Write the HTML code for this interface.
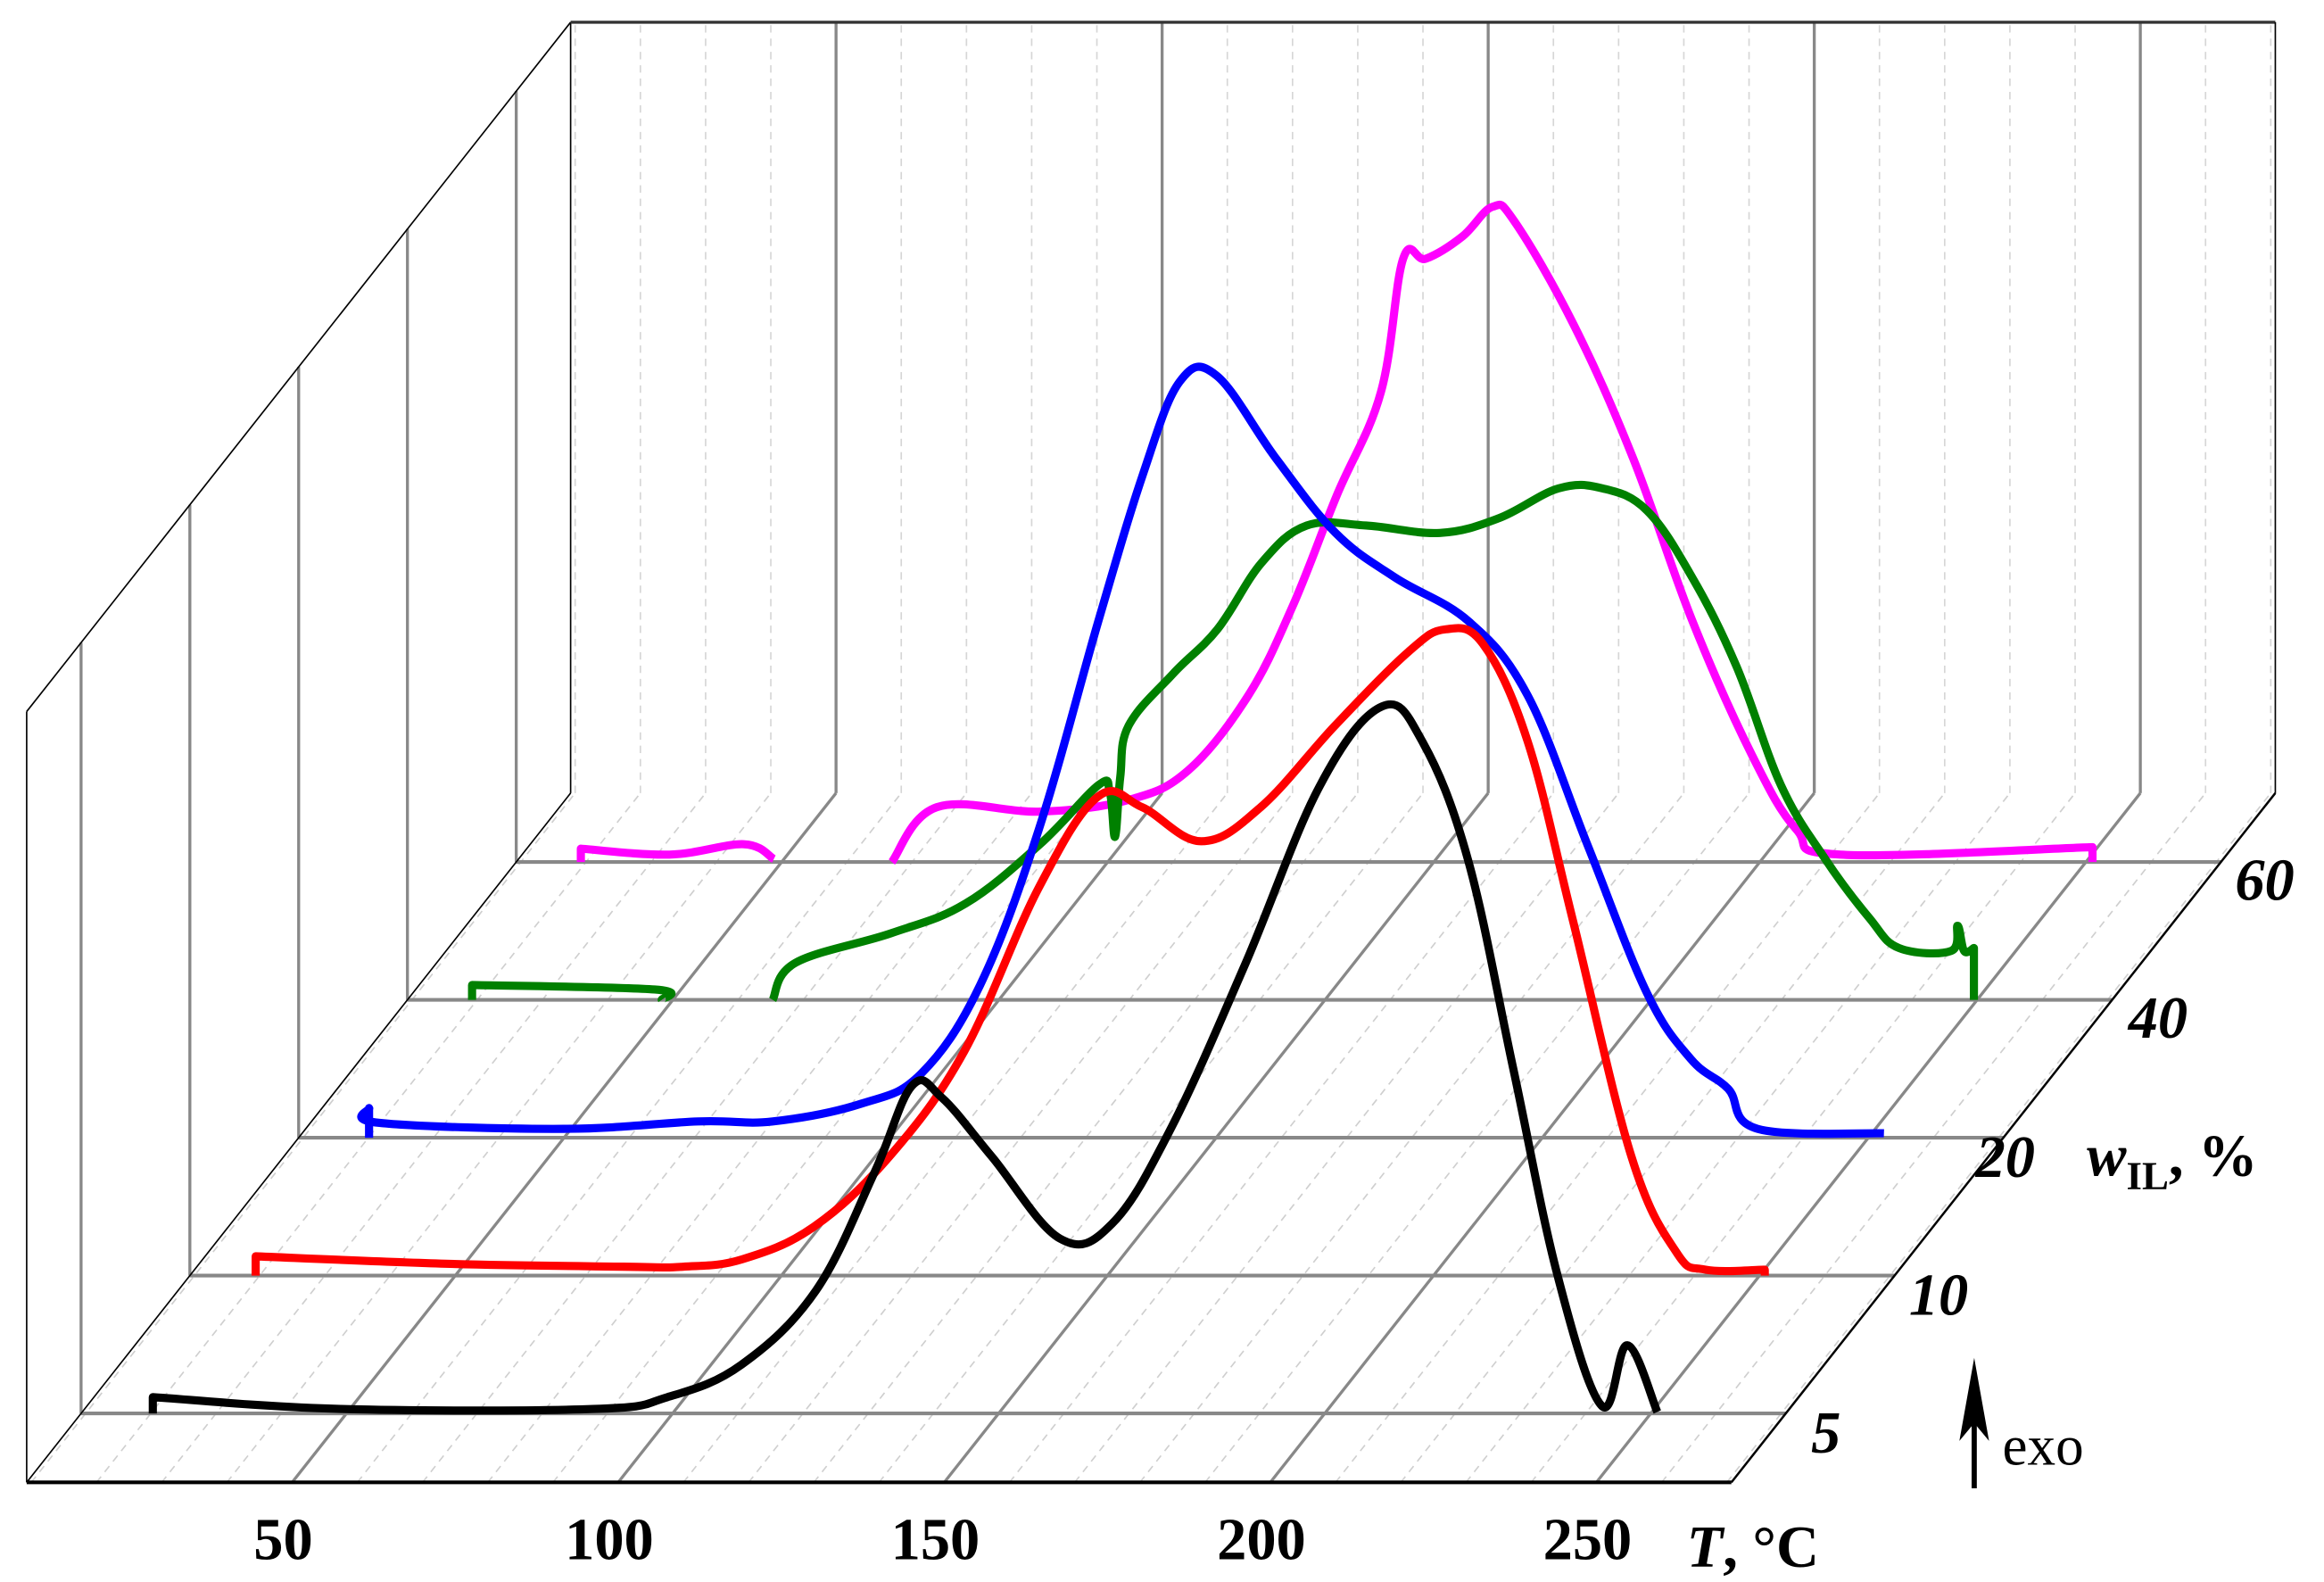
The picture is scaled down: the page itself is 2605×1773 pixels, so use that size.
<!DOCTYPE html>
<html><head><meta charset="utf-8"><style>
html,body{margin:0;padding:0;background:#fff;}
svg{display:block;}
text{font-family:"Liberation Serif",serif;}
</style></head><body>
<svg id="chart" xmlns="http://www.w3.org/2000/svg" width="2605" height="1773" viewBox="0 0 1568 1067.2">
<g id="grid"></g>
<g id="series"></g>
<g id="labels"></g>
</svg>
<script>
// ---- data ----
const depthLabels = ["5","10","20","40","60"];
const tickLabels = [50,100,150,200,250];
const blackT = [20.3,20.3,49.2,87.8,99.2,110.6,122,131,136.7,141.3,149,159.4,167.4,176.5,187.8,199.2,208.8,215,222,228.9,235.7,242.5,246.4,251];
const blackH = [0,11,3,3,11,33,83,163,221,213,173,118,128,193,303,423,477,453,373,233,93,5,46,1];
const redT = [19.4,19.4,48.5,75.8,84.9,94,105,116.7,128,139.4,148.5,155.3,164.4,173.5,184.9,196.2,201.9,207.6,214.4,221.3,230.3,237.2,241.7,250.8,250.8];
const redH = [0,13,8,6,6,11,33,81,151,261,323,316,293,316,371,421,436,426,361,241,81,16,4,4,0];
const blueT = [20.1,20.1,21.7,50,70.6,82,95.6,104.7,113.8,122.8,131.9,138.8,144.4,150.1,159.2,168.3,177.4,188.8,197.8,206.9,216,222.8,228.5,233,252.4];
const blueH = [0,20,10,6,11,11,23,43,103,208,348,448,510,514,458,408,378,348,298,198,98,53,33,6,3];
const greenT1 = [19.2,19.2,47.2,48.3];
const greenH1 = [0,10,7,0];
const greenT2 = [65.3,68.8,83.5,94.9,106.3,115.3,117,117.8,118.6,119.9,126.7,133.5,140.3,147.2,156.3,167.6,176.7,185.8,192.6,199.4,206.3,213.1,219.9,226.7,233.5,238,246,247,248,249.5,249.5];
const greenH2 = [0,25,45,65,105,145,140,110,150,185,220,250,295,320,320,315,325,345,345,330,285,225,145,95,55,35,33,50,33,35,0];
const magT1 = [19.2,19.2,32.8,44.2,48.8];
const magH1 = [0,9,5,12,2];
const magT2 = [66.9,73.8,89.7,103.3,112.4,121.5,128.3,135.1,141.9,145.3,148.8,154.4,159,162.4,171.5,180.6,189.7,198.8,205.6,212.4,251,251];
const magH2 = [0,37,34,42,62,112,172,247,317,407,407,422,442,432,362,272,162,72,22,5,10,0];
const depthFrac = [0.1,0.3,0.5,0.7,0.9];

// ---- axes ----
const X0=18, Y0=1000, PX=4.4, T0=9.3, DX=367, DY=465, WALLH=520, TMAX=270.7;
const xT = T => X0 + (T - T0)*PX;
const P = (T,d,h) => [xT(T)+DX*d, Y0-DY*d-(h||0)];
const NS="http://www.w3.org/2000/svg";
function mk(parent,tag,attrs,name){const e=document.createElementNS(NS,tag);for(const k in attrs)e.setAttribute(k,attrs[k]);


parent.appendChild(e);return e;}
const G=document.getElementById('grid'), S=document.getElementById('series'), L=document.getElementById('labels');
function line(p,a,b,st,w,dash,name){const at={x1:a[0],y1:a[1],x2:b[0],y2:b[1],stroke:st,'stroke-width':w};if(dash)at['stroke-dasharray']=dash;mk(p,'line',at,name);}

for(let T=10;T<=270;T+=10){ if(T%50===0)continue;
  line(G,P(T,0),P(T,1),'#cfcfcf',1,'5,4','floor-minor-grid');
  const b=P(T,1); line(G,b,[b[0],b[1]-WALLH],'#d6d6d6',1,'5,4','wall-minor-grid');
}
tickLabels.forEach(T=>{ line(G,P(T,0),P(T,1),'#888',2,null,'floor-major-grid');
  const b=P(T,1); line(G,b,[b[0],b[1]-WALLH],'#888',2,null,'wall-major-grid');});
depthFrac.forEach(d=>{ line(G,P(T0,d),P(TMAX,d),'#888',2.5,null,'depth-line');
  const a=P(T0,d); line(G,a,[a[0],Y0-WALLH-DY*d],'#888',2,null,'left-wall-grid');});
line(G,P(T0,0),P(TMAX,0),'#000',2.5,null,'front-edge');
line(G,P(T0,0),P(T0,1),'#000',1,null,'left-floor-edge');
line(G,P(TMAX,0),P(TMAX,1),'#000',1.5,null,'right-floor-edge');
line(G,P(T0,0),[X0,Y0-WALLH],'#000',1,null,'left-front-edge');
line(G,[X0,Y0-WALLH],[X0+DX,Y0-WALLH-DY],'#000',1,null,'left-top-edge');
line(G,P(T0,1),[X0+DX,Y0-WALLH-DY],'#000',1,null,'back-left-edge');
line(G,[X0+DX,Y0-WALLH-DY],[xT(TMAX)+DX,Y0-WALLH-DY],'#333',2,null,'back-top-edge');
line(G,P(TMAX,1),[xT(TMAX)+DX,Y0-WALLH-DY],'#000',1,null,'back-right-edge');

function smoothPath(pts){
  const f=p=>p.map(v=>v.toFixed(1)).join(',');
  let d='M'+f(pts[0]);
  const vert=(a,b)=>Math.abs(a[0]-b[0])<1;
  for(let i=0;i<pts.length-1;i++){
    const p1=pts[i],p2=pts[i+1];
    if(vert(p1,p2)){ d+=' L'+f(p2); continue; }
    let p0=(i>0 && !vert(pts[i-1],p1))?pts[i-1]:p1;
    let p3=(i+2<pts.length && !vert(p2,pts[i+2]))?pts[i+2]:p2;
    const t=0.18;
    const c1=[p1[0]+(p2[0]-p0[0])*t,p1[1]+(p2[1]-p0[1])*t];
    const c2=[p2[0]-(p3[0]-p1[0])*t,p2[1]-(p3[1]-p1[1])*t];
    d+=' C'+f(c1)+' '+f(c2)+' '+f(p2);
  }
  return d;
}
function series(Ts,Hs,d,color,name){
  const pts=Ts.map((T,i)=>P(T,d,Hs[i]));
  mk(S,'path',{d:smoothPath(pts),fill:'none',stroke:color,'stroke-width':5.5,'stroke-linejoin':'round'},name);
}
series(magT1,magH1,0.9,'#ff00ff','series-60-a');
series(magT2,magH2,0.9,'#ff00ff','series-60-b');
series(greenT1,greenH1,0.7,'#008000','series-40-a');
series(greenT2,greenH2,0.7,'#008000','series-40-b');
series(blueT,blueH,0.5,'#0000ff','series-20');
series(redT,redH,0.3,'#ff0000','series-10');
series(blackT,blackH,0.1,'#000000','series-5');

function txt(x,y,s,attrs,name){const t=mk(L,'text',Object.assign({x:x,y:y},attrs),name);t.textContent=s;return t;}
tickLabels.forEach(T=>txt(xT(T)-6,1052,String(T),{'font-size':40,'font-weight':'bold','text-anchor':'middle'},'x-tick-label'));
const dlx=[1222,1288,1333,1436,1508], dly=[980,887,794,700,607];
depthLabels.forEach((s,i)=>txt(dlx[i],dly[i],s,{'font-size':40,'font-weight':'bold','font-style':'italic'},'depth-label'));
const xt=txt(1138,1057,'',{'font-size':40,'font-weight':'bold'},'x-axis-title');
xt.innerHTML='<tspan font-style="italic">T</tspan>, °C';
const wt=txt(1408,793,'',{'font-size':40,'font-weight':'bold'},'depth-axis-title');
wt.innerHTML='<tspan font-style="italic">w</tspan><tspan font-size="27" dy="9">IL</tspan><tspan dy="-9">, %</tspan>';
line(L,[1332,1004],[1332,950],'#000',3.5,null,'exo-arrow-shaft');
mk(L,'polygon',{points:'1332,916 1322,972 1332,960 1342,972',fill:'#000'},'exo-arrow-head');
txt(1351,988,'exo',{'font-size':38},'exo-label');
</script>
</body></html>
